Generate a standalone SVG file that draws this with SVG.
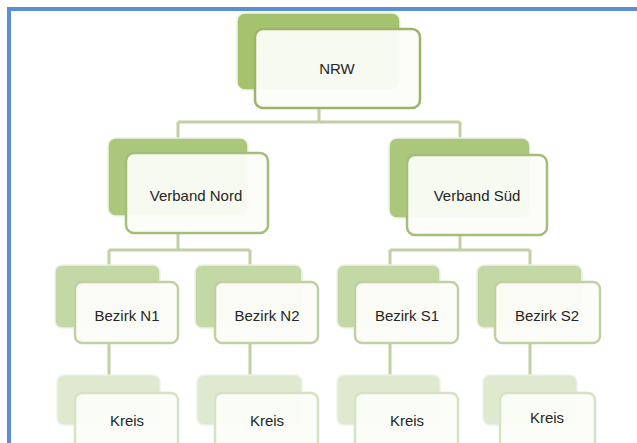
<svg xmlns="http://www.w3.org/2000/svg" width="637" height="443" viewBox="0 0 637 443">
<style>
.bg{fill:#ffffff}
.frame{fill:none;stroke:#5a8fd6;stroke-width:4}
.con{fill:none;stroke:#bfd0a4;stroke-width:3}
.front{fill:#fcfdf9;fill-opacity:0.94;stroke-width:2.5}
.back{stroke:#eef2e8;stroke-width:1.5}
.l1 .back{fill:#a5c36f}.l1 .front{stroke:#98b568}
.l2 .back{fill:#aac77b}.l2 .front{stroke:#a3be79}
.l3 .back{fill:#c4d8a6}.l3 .front{stroke:#bfd1a3}
.l4 .back{fill:#dfe9cf}.l4 .front{stroke:#d6e2c4}
text{font-family:"Liberation Sans",Arial,sans-serif;font-size:15px;fill:#262626;text-anchor:middle;dominant-baseline:central}
</style>
<rect class="bg" x="0" y="0" width="637" height="443"/>
<path class="frame" d="M9 443 V9 H637"/>
<g id="connectors">
<path class="con" d="M319 108 V122 M178 122 H460 M178 122 V138 M460 122 V138"/>
<path class="con" d="M178 233 V250 M109 250 H250 M109 250 V265 M250 250 V265"/>
<path class="con" d="M460 235 V250 M390 250 H530 M390 250 V265 M530 250 V265"/>
<path class="con" d="M109 343 V375 M250 343 V375 M390 343 V375 M530 343 V375"/>
</g>
<g id="nrw" class="l1">
<rect class="back" x="237" y="13" width="163" height="77" rx="8"/>
<rect class="front" x="255" y="29" width="165" height="79" rx="8"/>
<text x="337" y="68">NRW</text>
</g>
<g id="verband-nord" class="l2">
<rect class="back" x="108" y="138" width="140" height="78" rx="8"/>
<rect class="front" x="126" y="153" width="142" height="80" rx="8"/>
<text x="196" y="195">Verband Nord</text>
</g>
<g id="verband-sued" class="l2">
<rect class="back" x="389" y="138" width="141" height="80" rx="8"/>
<rect class="front" x="407" y="155" width="140" height="80" rx="8"/>
<text x="477" y="195">Verband Süd</text>
</g>
<g id="bezirk-n1" class="l3">
<rect class="back" x="55" y="265" width="105" height="63" rx="7"/>
<rect class="front" x="75" y="282" width="103" height="61" rx="7"/>
<text x="127" y="315">Bezirk N1</text>
</g>
<g id="bezirk-n2" class="l3">
<rect class="back" x="195" y="265" width="107" height="63" rx="7"/>
<rect class="front" x="215" y="282" width="103" height="61" rx="7"/>
<text x="267" y="315">Bezirk N2</text>
</g>
<g id="bezirk-s1" class="l3">
<rect class="back" x="337" y="265" width="103" height="63" rx="7"/>
<rect class="front" x="355" y="282" width="103" height="61" rx="7"/>
<text x="407" y="315">Bezirk S1</text>
</g>
<g id="bezirk-s2" class="l3">
<rect class="back" x="477" y="265" width="105" height="63" rx="7"/>
<rect class="front" x="495" y="282" width="105" height="61" rx="7"/>
<text x="547" y="315">Bezirk S2</text>
</g>
<g id="kreis-n1" class="l4">
<rect class="back" x="57" y="375" width="103" height="50" rx="7"/>
<rect class="front" x="75" y="393" width="103" height="62" rx="7"/>
<text x="127" y="420">Kreis</text>
</g>
<g id="kreis-n2" class="l4">
<rect class="back" x="197" y="375" width="105" height="50" rx="7"/>
<rect class="front" x="215" y="393" width="103" height="62" rx="7"/>
<text x="267" y="420">Kreis</text>
</g>
<g id="kreis-s1" class="l4">
<rect class="back" x="337" y="375" width="103" height="50" rx="7"/>
<rect class="front" x="355" y="393" width="103" height="62" rx="7"/>
<text x="407" y="420">Kreis</text>
</g>
<g id="kreis-s2" class="l4">
<rect class="back" x="483" y="375" width="94" height="50" rx="7"/>
<rect class="front" x="500" y="393" width="95" height="62" rx="7"/>
<text x="547" y="417">Kreis</text>
</g>
</svg>
